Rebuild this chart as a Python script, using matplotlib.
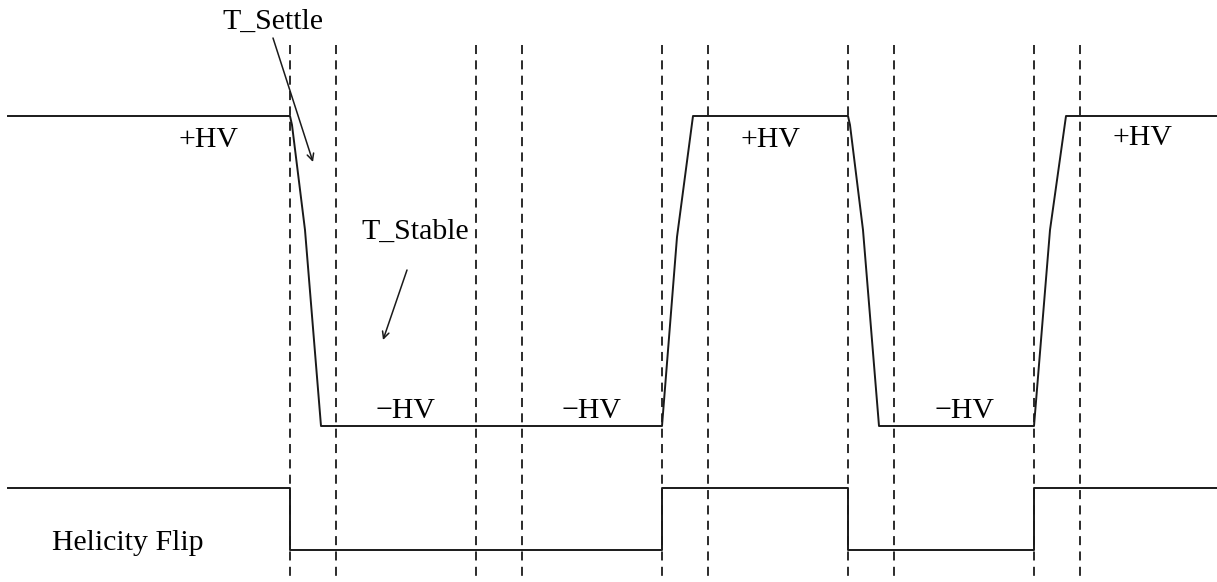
import matplotlib
matplotlib.use("Agg")
import matplotlib.pyplot as plt

# pixel-space timing diagram (y grows downward)
hv_x = [8, 290, 292, 305, 321, 662, 677, 693, 848, 850, 863, 879, 1034, 1050, 1066, 1217]
hv_y = [116, 116, 125, 230, 426, 426, 237, 116, 116, 125, 230, 426, 426, 230, 116, 116]
flip_x = [8, 290, 290, 662, 662, 848, 848, 1034, 1034, 1217]
flip_y = [488, 488, 550, 550, 488, 488, 550, 550, 488, 488]
guide_x = [290, 336, 476, 522, 662, 708, 848, 894, 1034, 1080]
hv_labels = [("+HV", 209, 147), ("+HV", 770, 147), ("+HV", 1143, 145),
             ("\u2212HV", 406, 418), ("\u2212HV", 592, 418), ("\u2212HV", 965, 418)]

plt.rcParams["font.family"] = ["Liberation Serif", "DejaVu Serif"]
fig = plt.figure(figsize=(12.17, 5.82), dpi=100)
ax = fig.add_axes([0, 0, 1, 1])
ax.set_xlim(0, 1217); ax.set_ylim(582, 0); ax.axis("off")

ax.vlines(guide_x, 45, 582, colors="#1a1a1a", lw=1.3, linestyles=(0, (5, 3.5)))
ax.plot(hv_x, hv_y, color="#1a1a1a", lw=1.4)
ax.plot(flip_x, flip_y, color="#1a1a1a", lw=1.4)

fs = 21.5
for t, x, y in hv_labels:
    ax.text(x, y, t, fontsize=fs, ha="center", va="baseline")
ax.text(273, 29, "T_Settle", fontsize=fs, ha="center", va="baseline")
ax.text(415, 239, "T_Stable", fontsize=fs, ha="center", va="baseline")
ax.text(128, 550, "Helicity Flip", fontsize=fs, ha="center", va="baseline")

arr = dict(arrowstyle="->", color="#1a1a1a", lw=1.1, mutation_scale=12, shrinkA=0, shrinkB=0)
ax.annotate("", xy=(313, 162), xytext=(273, 38), arrowprops=arr)
ax.annotate("", xy=(383, 340), xytext=(407, 270), arrowprops=arr)

fig.savefig("out.png", dpi=100)
